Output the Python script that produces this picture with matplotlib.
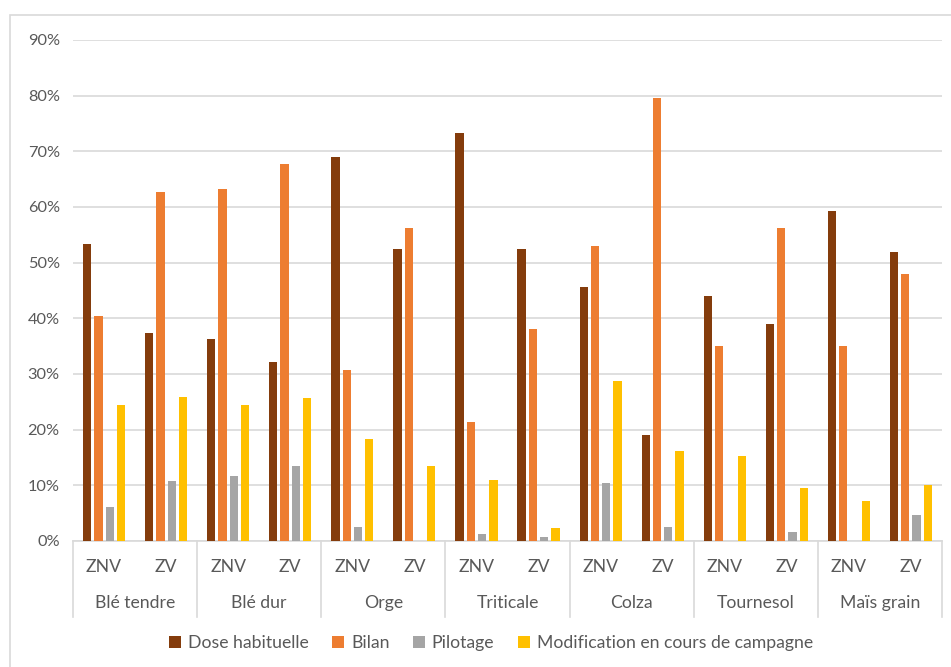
import matplotlib
matplotlib.use("Agg")
import matplotlib.pyplot as plt
import numpy as np
from matplotlib.patches import Rectangle
from matplotlib.transforms import blended_transform_factory

plt.rcParams['font.family'] = ['Lato', 'DejaVu Sans']

crops = ["Blé tendre", "Blé dur", "Orge", "Triticale", "Colza", "Tournesol", "Maïs grain"]
zones = ["ZNV", "ZV"]
series = ["Dose habituelle", "Bilan", "Pilotage", "Modification en cours de campagne"]
colors = ["#843C0C", "#ED7D31", "#A5A5A5", "#FFC000"]

# values in %, ordered crop by crop, ZNV then ZV
dose_habituelle = [53.3, 37.3, 36.2, 32.1, 69.0, 52.5, 73.3, 52.5, 45.6, 19.0, 44.1, 39.0, 59.3, 51.9]
bilan = [40.4, 62.7, 63.3, 67.8, 30.7, 56.2, 21.3, 38.1, 53.0, 79.6, 35.0, 56.2, 35.0, 47.9]
pilotage = [6.1, 10.7, 11.6, 13.5, 2.6, 0.0, 1.2, 0.7, 10.4, 2.6, 0.0, 1.6, 0.0, 4.7]
modification = [24.4, 25.8, 24.4, 25.6, 18.4, 13.5, 10.9, 2.3, 28.7, 16.1, 15.3, 9.5, 7.2, 10.1]

values = [dose_habituelle, bilan, pilotage, modification]

text_color = "#595959"
grid_color = "#D9D9D9"
label_size = 12.7

W, H = 951, 667
fig = plt.figure(figsize=(W / 100, H / 100), dpi=100)

# chart frame
fig.patches.append(Rectangle((10 / W, -0.05), 1.1, 1 - 15 / H + 0.05,
                             transform=fig.transFigure, fill=False,
                             edgecolor=grid_color, linewidth=1.2))

ax = fig.add_axes([73 / W, 1 - 541 / H, (942 - 73) / W, (541 - 40) / H])

n = len(dose_habituelle)
x = np.arange(n) + 0.5
step = 0.182
width = 0.133
for i, (vals, c, name) in enumerate(zip(values, colors, series)):
    ax.bar(x + (i - 1.5) * step, np.array(vals) / 100, width=width, color=c,
           label=name, zorder=3)

ax.set_xlim(0, n)
ax.set_ylim(0, 0.9)
ax.set_yticks(np.arange(0, 0.91, 0.1))
ax.set_yticklabels([f"{int(round(v * 100))}%" for v in np.arange(0, 0.91, 0.1)],
                   color=text_color, fontsize=11.8)
ax.yaxis.grid(True, color=grid_color, linewidth=1.2, zorder=0)
ax.tick_params(axis='y', length=0, pad=9.5)

for s in ["top", "right", "left"]:
    ax.spines[s].set_visible(False)
ax.spines["bottom"].set_color(grid_color)
ax.spines["bottom"].set_linewidth(1.2)

ax.set_xticks(x)
ax.set_xticklabels(zones * len(crops), color=text_color, fontsize=label_size)
ax.tick_params(axis='x', length=0, pad=13)

trans = blended_transform_factory(ax.transData, ax.transAxes)
sep_bottom = -(617 - 541) / (541 - 40)
for k in range(len(crops) + 1):
    ax.plot([2 * k, 2 * k], [0, sep_bottom], color=grid_color, linewidth=1.2,
            transform=trans, clip_on=False)
crop_y = -(603 - 541) / (541 - 40)
for k, crop in enumerate(crops):
    ax.text(2 * k + 1, crop_y, crop, transform=trans, ha="center", va="center",
            color=text_color, fontsize=label_size)

leg = fig.legend(loc="center", bbox_to_anchor=(491 / W, 1 - 643 / H), ncol=4,
                 frameon=False, fontsize=label_size, handlelength=0.65,
                 handleheight=0.65, handletextpad=0.4, columnspacing=1.35)
for t in leg.get_texts():
    t.set_color(text_color)

fig.savefig("out.png", dpi=100)
